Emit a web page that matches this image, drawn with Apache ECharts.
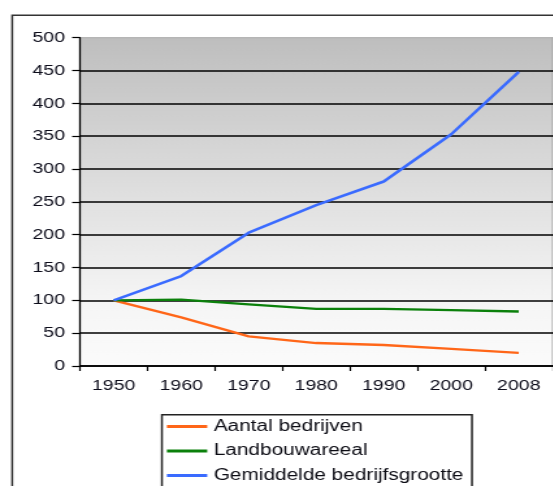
<!DOCTYPE html>
<html>
<head>
<meta charset="utf-8">
<script src="https://cdn.jsdelivr.net/npm/echarts@6/dist/echarts.min.js"></script>
<style>
html,body{margin:0;padding:0;background:#fff;overflow:hidden;width:553px;height:486px;}
#chart{width:425.4px;height:486px;transform:scaleX(1.3);transform-origin:0 0;}
</style>
</head>
<body>
<div id="chart"></div>
<script>
const years = ['1950','1960','1970','1980','1990','2000','2008'];
const aantalBedrijven = [100, 74, 45, 35, 32, 26, 20];
const landbouwareaal = [100, 101, 94, 87, 87, 85, 83];
const gemiddeldeGrootte = [100, 137, 203, 245, 281, 353, 448];
const seriesNames = ['Aantal bedrijven', 'Landbouwareeal', 'Gemiddelde bedrijfsgrootte'];

const chart = echarts.init(document.getElementById('chart'), null, {renderer:'canvas', devicePixelRatio:1});
const font = 'Liberation Sans, Arial, sans-serif';
chart.setOption({
  animation:false,
  backgroundColor:'#fff',
  graphic:[{
    type:'rect', left:6.9, top:12.7,
    shape:{width:1000, height:1000},
    style:{fill:'none', stroke:'#333', lineWidth:1.5},
    silent:true, z:-1
  },{
    type:'rect', left:123.8, top:414,
    shape:{width:238.5, height:200},
    style:{fill:'#fff', stroke:'#222', lineWidth:1.5},
    silent:true, z:-1
  }],
  grid:{
    left:61.5, top:37.7, width:365.1, height:328.3,
    show:true, borderColor:'#a8a8a8', borderWidth:1,
    backgroundColor:{type:'linear', x:0, y:0, x2:0, y2:1, colorStops:[
      {offset:0, color:'#bebebe'},
      {offset:0.4, color:'#dadada'},
      {offset:0.8, color:'#f5f5f5'},
      {offset:1, color:'#fbfbfb'}
    ]}
  },
  legend:{
    orient:'vertical', left:128.4, top:417.5,
    icon:'rect', itemWidth:31, itemHeight:3, itemGap:6.5,
    padding:0,
    textStyle:{fontFamily:font, fontSize:16, lineHeight:18, color:'#0c0c14'},
    data:seriesNames
  },
  xAxis:{
    type:'category', data:years, boundaryGap:true,
    axisLine:{lineStyle:{color:'#000', width:1.5}},
    axisTick:{show:true, length:5, lineStyle:{color:'#000', width:1.2}},
    axisLabel:{fontFamily:font, fontSize:15, color:'#0c0c1a', margin:12},
    splitLine:{show:false}
  },
  yAxis:{
    type:'value', min:0, max:500, interval:50,
    axisLine:{show:true, lineStyle:{color:'#000', width:1.3}},
    axisTick:{show:true, length:6, lineStyle:{color:'#000', width:1.2}},
    axisLabel:{fontFamily:font, fontSize:15, color:'#0c0c1a', margin:11.5},
    splitLine:{show:true, showMaxLine:false, lineStyle:{color:'#000', width:1.6}}
  },
  series:[
    {name:seriesNames[0], type:'line', data:aantalBedrijven, symbol:'none', color:'#ff6618', lineStyle:{width:2.3, color:'#ff6618'}},
    {name:seriesNames[1], type:'line', data:landbouwareaal, symbol:'none', color:'#0b800b', lineStyle:{width:2.3, color:'#0b800b'}},
    {name:seriesNames[2], type:'line', data:gemiddeldeGrootte, symbol:'none', color:'#3a6bff', lineStyle:{width:2.5, color:'#3a6bff'}}
  ]
});
</script>
</body>
</html>
